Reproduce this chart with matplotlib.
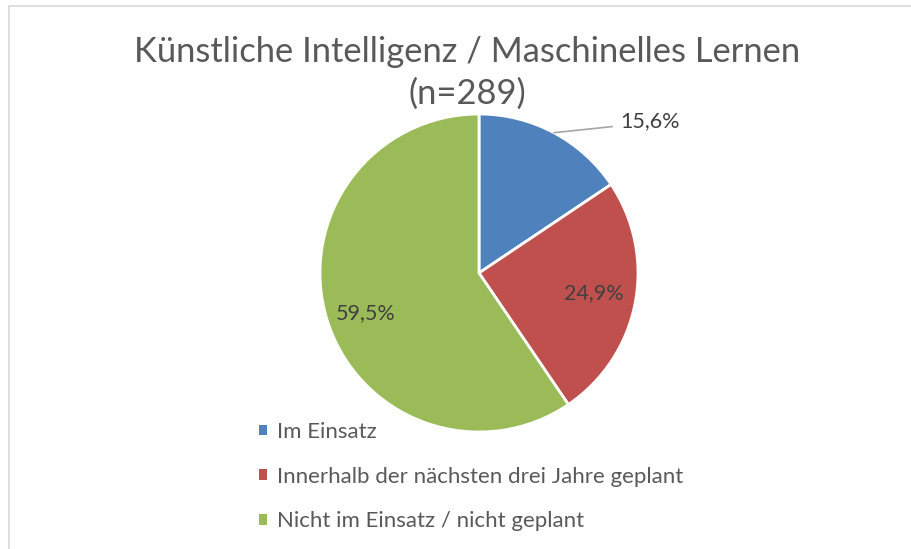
import numpy as np
import matplotlib.pyplot as plt
from matplotlib.patches import Rectangle

# Daten
kategorien = ['Im Einsatz', 'Innerhalb der nächsten drei Jahre geplant', 'Nicht im Einsatz / nicht geplant']
anteile = [15.6, 24.9, 59.5]
farben = ['#4F81BD', '#C0504D', '#9BBB59']
titel_zeilen = ['Künstliche Intelligenz / Maschinelles Lernen', '(n=289)']

plt.rcParams['font.family'] = ['Lato', 'DejaVu Sans']

fig = plt.figure(figsize=(9.12, 5.49), dpi=100)
W, H = 912, 549

# Rahmen
fig.add_artist(Rectangle((9.5 / W, -0.1), 1.2, 1 - 6.5 / H + 0.1, transform=fig.transFigure,
                         fill=False, edgecolor='#D9D9D9', linewidth=1.2))

# Kreis: Mittelpunkt (479, 273) px, Radius 159 px
r = 159
ax = fig.add_axes([(479 - r) / W, 1 - (273 + r) / H, 2 * r / W, 2 * r / H])
wedges, _ = ax.pie(anteile, colors=farben, startangle=90, counterclock=False,
                   wedgeprops=dict(edgecolor='white', linewidth=2))
ax.set_xlim(-1, 1)
ax.set_ylim(-1, 1)
ax.axis('off')

# Beschriftungen der Segmente
abstaende = [None, 0.73, 0.755]
winkel_korr = [0, 1, 2.4]
for i, w in enumerate(wedges):
    mitte = np.deg2rad((w.theta1 + w.theta2) / 2 + winkel_korr[i])
    text = f'{anteile[i]:.1f}%'.replace('.', ',')
    if abstaende[i] is None:
        x0, y0 = np.cos(mitte), np.sin(mitte)
        ax.annotate(text, xy=(x0, y0), xytext=(x0 + 0.415, y0 + 0.075),
                    fontsize=15.5, color='#404040', va='center', ha='left',
                    arrowprops=dict(arrowstyle='-', color='#A6A6A6', lw=1.2,
                                    relpos=(0, 0.25), shrinkA=3.5, shrinkB=0))
    else:
        d = abstaende[i]
        ax.text(d * np.cos(mitte), d * np.sin(mitte), text, fontsize=15.5,
                color='#404040', ha='center', va='center')

# Titel in zwei Zeilen
for zeile, y_base in zip(titel_zeilen, [62, 104]):
    fig.text(467 / W, 1 - y_base / H, zeile, ha='center', va='baseline', fontsize=24.8,
             color='#595959')

leg = fig.legend(wedges, kategorien, loc='upper left', bbox_to_anchor=(239 / W, 1 - 402 / H),
                 frameon=False, fontsize=16, handlelength=0.36, handleheight=0.36,
                 handletextpad=0.45, labelspacing=1.11, labelcolor='#595959')
for h in leg.legend_handles:
    h.set_edgecolor('none')

fig.savefig('out.png', dpi=100)
